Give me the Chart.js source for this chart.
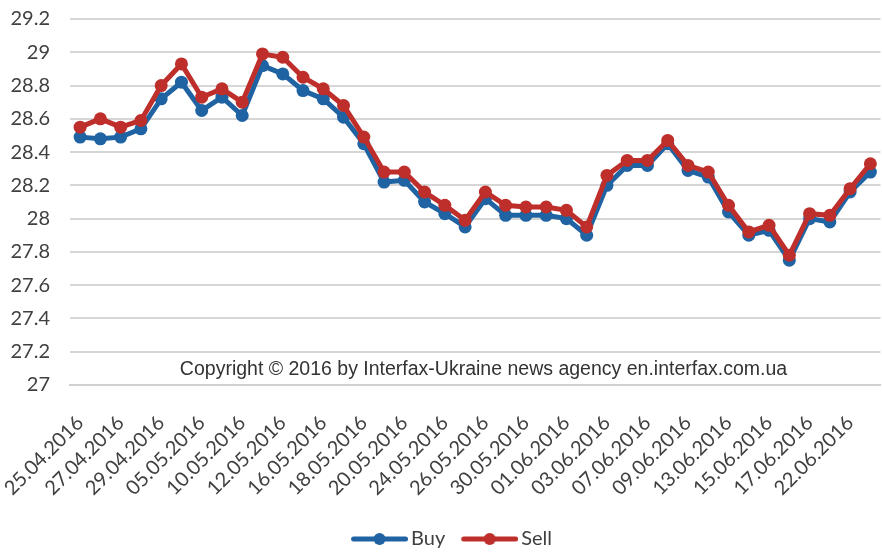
<!DOCTYPE html>
<html>
<head>
<meta charset="utf-8">
<script src="https://cdn.jsdelivr.net/npm/chart.js@4.4.1/dist/chart.umd.min.js"></script>
<style>
    html, body { margin: 0; padding: 0; background: #fff; overflow: hidden; }
    #wrap { width: 882px; height: 552px; overflow: hidden; }
</style>
</head>
<body>
<div id="wrap"><canvas id="myChart" width="887" height="559"></canvas></div>
<script>
// Trading days, UAH/USD interbank
var dates = [
    '25.04.2016', '26.04.2016', '27.04.2016', '28.04.2016', '29.04.2016',
    '04.05.2016', '05.05.2016', '06.05.2016', '10.05.2016', '11.05.2016',
    '12.05.2016', '13.05.2016', '16.05.2016', '17.05.2016', '18.05.2016',
    '19.05.2016', '20.05.2016', '23.05.2016', '24.05.2016', '25.05.2016',
    '26.05.2016', '27.05.2016', '30.05.2016', '31.05.2016', '01.06.2016',
    '02.06.2016', '03.06.2016', '06.06.2016', '07.06.2016', '08.06.2016',
    '09.06.2016', '10.06.2016', '13.06.2016', '14.06.2016', '15.06.2016',
    '16.06.2016', '17.06.2016', '21.06.2016', '22.06.2016', '23.06.2016'
];
var buyRates = [
    28.49, 28.48, 28.49, 28.54, 28.72, 28.82, 28.65, 28.73, 28.62, 28.92,
    28.87, 28.77, 28.72, 28.61, 28.45, 28.22, 28.23, 28.10, 28.03, 27.95,
    28.12, 28.02, 28.02, 28.02, 28.00, 27.90, 28.20, 28.32, 28.32, 28.45,
    28.29, 28.25, 28.04, 27.90, 27.93, 27.75, 28.00, 27.98, 28.16, 28.28
];
var sellRates = [
    28.55, 28.60, 28.55, 28.59, 28.80, 28.93, 28.73, 28.78, 28.70, 28.99,
    28.97, 28.85, 28.78, 28.68, 28.49, 28.28, 28.28, 28.16, 28.08, 27.99,
    28.16, 28.08, 28.07, 28.07, 28.05, 27.95, 28.26, 28.35, 28.35, 28.47,
    28.32, 28.28, 28.08, 27.92, 27.96, 27.78, 28.03, 28.02, 28.18, 28.33
];
var yMin = 27;
var yMax = 29.2;
var yStep = 0.2;
var copyrightText = 'Copyright \u00A9 2016 by Interfax-Ukraine news agency en.interfax.com.ua';

var blue = '#1F63A3';
var red = '#BE2E2B';

// line+marker icon for the legend; line sits right of centre so the
// gap before the text stays small
function legendIcon(color) {
    var c = document.createElement('canvas');
    c.width = 80;
    c.height = 14;
    var g = c.getContext('2d');
    g.strokeStyle = color;
    g.lineWidth = 5;
    g.lineCap = 'round';
    g.beginPath();
    g.moveTo(25.5, 7);
    g.lineTo(77.5, 7);
    g.stroke();
    g.fillStyle = color;
    g.beginPath();
    g.arc(51.5, 7, 6, 0, Math.PI * 2);
    g.fill();
    return c;
}
var icons = [legendIcon(blue), legendIcon(red)];

// copyright line inside the plot, just above the baseline
var copyrightPlugin = {
    id: 'copyright',
    afterDatasetsDraw: function(chart) {
        var ctx = chart.ctx;
        var area = chart.chartArea;
        ctx.save();
        ctx.font = '19.5px "Liberation Sans", Arial, sans-serif';
        ctx.fillStyle = '#333';
        ctx.textAlign = 'center';
        ctx.textBaseline = 'middle';
        ctx.fillText(copyrightText, area.left + 413.5, chart.scales.y.getPixelForValue(27.1) + 1);
        ctx.restore();
    }
};

var labelFont = { family: 'Lato, "Open Sans", sans-serif', size: 20 };

var ctx = document.getElementById('myChart');
var myChart = new Chart(ctx, {
    type: 'line',
    data: {
        labels: dates,
        datasets: [{
            label: 'Buy',
            data: buyRates,
            borderColor: blue,
            backgroundColor: blue,
            borderWidth: 5,
            pointRadius: 6.5,
            pointBorderWidth: 0,
            pointBackgroundColor: blue,
            tension: 0,
            order: 1
        }, {
            label: 'Sell',
            data: sellRates,
            borderColor: red,
            backgroundColor: red,
            borderWidth: 5,
            pointRadius: 6.5,
            pointBorderWidth: 0,
            pointBackgroundColor: red,
            tension: 0,
            order: 0
        }]
    },
    options: {
        responsive: false,
        animation: false,
        devicePixelRatio: 1,
        layout: {
            padding: { top: 19, left: 0, right: 0, bottom: 0 }
        },
        scales: {
            x: {
                offset: true,
                afterFit: function(scale) {
                    scale.paddingLeft = 0;
                    scale.paddingRight = 0;
                    scale.height = 144;
                },
                grid: { display: false, drawTicks: false },
                border: { display: true, color: '#d0d0d0', width: 2 },
                ticks: {
                    autoSkip: false,
                    minRotation: 45,
                    maxRotation: 45,
                    padding: 26,
                    color: '#404040',
                    font: labelFont,
                    callback: function(val, i) {
                        return i % 2 === 0 ? dates[i] : '';
                    }
                }
            },
            y: {
                min: yMin,
                max: yMax,
                afterFit: function(scale) {
                    scale.width = 70;
                    scale.paddingTop = 0;
                    scale.paddingBottom = 0;
                },
                grid: { color: '#d6d6d6', lineWidth: 2, drawTicks: false },
                border: { display: false },
                ticks: {
                    stepSize: yStep,
                    padding: 20,
                    color: '#404040',
                    font: labelFont,
                    callback: function(v) { return String(+v.toFixed(1)); }
                }
            }
        },
        plugins: {
            tooltip: { enabled: false },
            legend: {
                position: 'bottom',
                labels: {
                    usePointStyle: true,
                    pointStyleWidth: 66,
                    padding: 0,
                    color: '#404040',
                    font: labelFont,
                    generateLabels: function(chart) {
                        var items = Chart.defaults.plugins.legend.labels.generateLabels(chart);
                        items.sort(function(a, b) { return a.datasetIndex - b.datasetIndex; });
                        items.forEach(function(it) { it.pointStyle = icons[it.datasetIndex]; });
                        return items;
                    }
                }
            }
        }
    },
    plugins: [copyrightPlugin]
});
</script>
</body>
</html>
